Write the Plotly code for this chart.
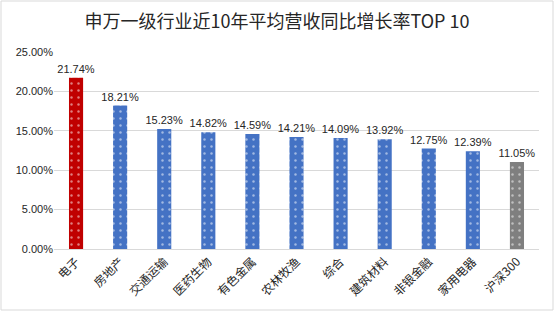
import plotly.graph_objects as go

categories = ["电子", "房地产", "交通运输", "医药生物", "有色金属", "农林牧渔", "综合", "建筑材料", "非银金融", "家用电器", "沪深300"]
values = [0.2174, 0.1821, 0.1523, 0.1482, 0.1459, 0.1421, 0.1409, 0.1392, 0.1275, 0.1239, 0.1105]
colors = ["#C00000"] + ["#4472C4"] * 9 + ["#7F7F7F"]
y_ticks = [0, 0.05, 0.10, 0.15, 0.20, 0.25]

font_family = "Liberation Sans, Noto Sans CJK SC, sans-serif"

fig = go.Figure(go.Bar(
    x=categories,
    y=values,
    marker=dict(
        color=colors,
        line=dict(width=0),
        pattern=dict(shape=".", fgcolor="white", bgcolor=colors, size=7, solidity=0.1),
    ),
    text=[f"{v*100:.2f}%" for v in values],
    textposition="outside",
    constraintext="none",
    textfont=dict(size=11, color="#262626", family=font_family),
    cliponaxis=False,
))

fig.update_layout(
    width=554, height=311,
    margin=dict(l=54, r=15, t=52, b=62),
    paper_bgcolor="white", plot_bgcolor="white",
    bargap=0.68,
    showlegend=False,
    title=dict(text="申万一级行业近10年平均营收同比增长率TOP 10", x=0.5, xanchor="center",
               y=0.93, yanchor="middle",
               font=dict(size=18, color="#262626", family="Noto Sans CJK SC, sans-serif")),
    font=dict(family=font_family, color="#262626"),
    shapes=[dict(type="rect", xref="paper", yref="paper", x0=-53/485, x1=1+14/485,
                 y0=-61/197, y1=1+51/197, line=dict(color="#D9D9D9", width=1))],
)
fig.update_xaxes(tickangle=-45, tickfont=dict(size=12, color="#262626", family="Noto Sans CJK SC, sans-serif"),
                 showline=True, linecolor="#D9D9D9", ticks="", showgrid=False)
fig.update_yaxes(range=[0, 0.25], tickvals=y_ticks, tickformat=".2%", showgrid=True, gridcolor="#D9D9D9",
                 zeroline=False, showline=False, tickfont=dict(size=11, color="#262626"))

fig.write_html("out.html")
